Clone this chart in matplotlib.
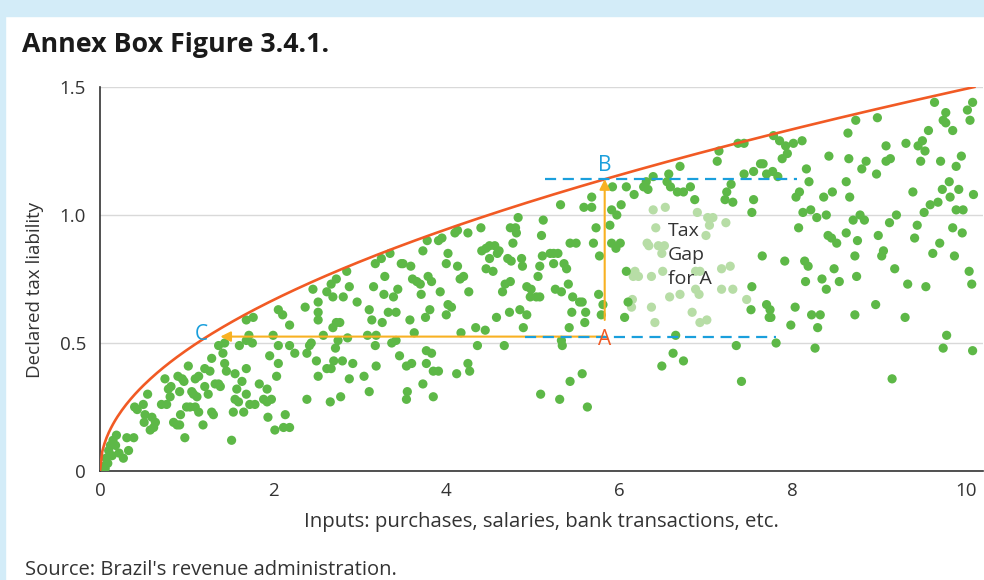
import numpy as np
import matplotlib.pyplot as plt
from matplotlib.patches import Rectangle

plt.rcParams['font.family'] = ['Open Sans', 'DejaVu Sans']

# frontier: declared tax liability that an efficient firm would report
frontier_max = 1.5
x_max = 10.1

# firms (inputs, declared tax liability)
firms = [
    (0.05, 0.02), (0.07, 0.05), (0.10, 0.08), (0.12, 0.10), (0.15, 0.12), (0.09, 0.03), (0.18, 0.10),
    (0.22, 0.07), (0.14, 0.06), (0.06, 0.01), (0.19, 0.14), (0.31, 0.13), (0.39, 0.13), (0.33, 0.08),
    (0.27, 0.05), (0.40, 0.25), (0.43, 0.24), (0.50, 0.26), (0.55, 0.30), (0.52, 0.22), (0.51, 0.19),
    (0.60, 0.21), (0.64, 0.19), (0.58, 0.16), (0.62, 0.17), (0.71, 0.26), (0.77, 0.26), (0.75, 0.36),
    (0.79, 0.32), (0.81, 0.29), (0.82, 0.33), (0.85, 0.19), (0.89, 0.18), (0.92, 0.18), (0.90, 0.37),
    (0.95, 0.36), (0.97, 0.35), (0.92, 0.31), (0.93, 0.22), (1.00, 0.25), (1.04, 0.25), (0.98, 0.13),
    (1.02, 0.41), (1.06, 0.31), (1.08, 0.30), (1.12, 0.29), (1.10, 0.36), (1.14, 0.37), (1.10, 0.25),
    (1.14, 0.23), (1.19, 0.18), (1.21, 0.40), (1.27, 0.39), (1.21, 0.33), (1.25, 0.30), (1.29, 0.44),
    (1.29, 0.23), (1.31, 0.22), (1.33, 0.34), (1.37, 0.34), (1.39, 0.33), (1.37, 0.49), (1.44, 0.50),
    (1.42, 0.46), (1.44, 0.42), (1.46, 0.39), (1.52, 0.12),
    (1.69, 0.59), (1.77, 0.60), (2.06, 0.63), (2.11, 0.61), (2.19, 0.57), (2.37, 0.64), (2.46, 0.71),
    (2.52, 0.66), (2.52, 0.62), (2.52, 0.59), (2.62, 0.70), (2.67, 0.73), (2.69, 0.68), (2.73, 0.75),
    (2.81, 0.68), (2.85, 0.78), (2.88, 0.72), (2.97, 0.66), (2.69, 0.56), (2.73, 0.58), (2.77, 0.58),
    (2.00, 0.53), (2.06, 0.49), (2.19, 0.49), (2.25, 0.46), (1.96, 0.45), (2.06, 0.42), (2.04, 0.37),
    (2.39, 0.46), (2.44, 0.50), (2.42, 0.49), (2.50, 0.43), (2.52, 0.37), (2.58, 0.53), (2.62, 0.40),
    (2.67, 0.40), (2.70, 0.43), (2.72, 0.48), (2.75, 0.51), (2.80, 0.43), (2.86, 0.52), (2.88, 0.36),
    (2.92, 0.42), (2.66, 0.27), (2.78, 0.29), (2.39, 0.28),
    (3.05, 0.37), (3.11, 0.31), (3.18, 0.49), (3.19, 0.41), (3.16, 0.72), (3.29, 0.76), (3.28, 0.69),
    (3.35, 0.85), (3.25, 0.83), (3.18, 0.81), (3.33, 0.62), (3.39, 0.68), (3.42, 0.62), (3.44, 0.71),
    (3.37, 0.50), (3.42, 0.51), (3.26, 0.58), (3.14, 0.59), (3.11, 0.63), (3.19, 0.53), (3.09, 0.53),
    (1.56, 0.38), (1.69, 0.40), (1.64, 0.35), (1.58, 0.32), (1.69, 0.30), (1.56, 0.28), (1.60, 0.27),
    (1.73, 0.26), (1.79, 0.26), (1.54, 0.23), (1.66, 0.23), (1.84, 0.34), (1.93, 0.32), (1.89, 0.28),
    (1.93, 0.27), (1.98, 0.28), (1.94, 0.21), (2.14, 0.22), (2.02, 0.16), (2.12, 0.17), (2.19, 0.17),
    (1.61, 0.49), (1.69, 0.51), (1.72, 0.53), (1.76, 0.50), (3.46, 0.45),
    (3.48, 0.81), (3.50, 0.81), (3.59, 0.80), (3.73, 0.86), (3.78, 0.90), (3.91, 0.90), (3.95, 0.91),
    (4.10, 0.93), (4.13, 0.94), (4.25, 0.93), (4.40, 0.95), (4.02, 0.85), (4.00, 0.81), (4.13, 0.80),
    (4.16, 0.75), (4.20, 0.76), (3.93, 0.70), (3.71, 0.69), (3.61, 0.75), (3.66, 0.74), (3.70, 0.73),
    (3.79, 0.76), (3.83, 0.74), (3.81, 0.63), (3.76, 0.60), (4.02, 0.65), (4.06, 0.64), (4.00, 0.61),
    (4.26, 0.70), (3.58, 0.59), (3.63, 0.54), (3.54, 0.41), (3.60, 0.42), (3.77, 0.42), (3.85, 0.39),
    (3.91, 0.39), (4.12, 0.38), (4.25, 0.42), (4.27, 0.39), (3.73, 0.34), (3.55, 0.31), (3.54, 0.28),
    (3.85, 0.29), (3.77, 0.47), (3.83, 0.46), (4.17, 0.54), (4.34, 0.56), (4.45, 0.55), (4.36, 0.49),
    (4.67, 0.49),
    (4.41, 0.86), (4.46, 0.87), (4.50, 0.88), (4.56, 0.88), (4.59, 0.85), (4.61, 0.86), (4.50, 0.83),
    (4.46, 0.79), (4.54, 0.78), (4.71, 0.83), (4.75, 0.82), (4.87, 0.83), (4.88, 0.80), (4.77, 0.89),
    (4.74, 0.95), (4.80, 0.95), (4.81, 0.93), (4.83, 0.99), (5.12, 0.98), (5.10, 0.92), (5.11, 0.84),
    (5.08, 0.80), (5.06, 0.76), (5.20, 0.85), (5.24, 0.85), (5.29, 0.85), (5.24, 0.81), (5.36, 0.81),
    (5.39, 0.79), (5.32, 1.04), (5.43, 0.89), (5.50, 0.89), (5.59, 1.03), (5.68, 1.03), (5.70, 0.89),
    (5.73, 0.95), (5.77, 0.84), (4.68, 0.73), (4.74, 0.74), (4.65, 0.70), (4.58, 0.60), (4.73, 0.62),
    (4.85, 0.63), (4.93, 0.61), (4.89, 0.56), (4.93, 0.72), (4.98, 0.71), (4.97, 0.68), (5.04, 0.68),
    (5.08, 0.68), (5.26, 0.71), (5.33, 0.70), (5.41, 0.73), (5.46, 0.68), (5.54, 0.66), (5.57, 0.66),
    (5.45, 0.62), (5.61, 0.62), (5.42, 0.56), (5.60, 0.58), (5.76, 0.69), (5.79, 0.61), (5.81, 0.65),
    (5.33, 0.51), (5.34, 0.49), (5.09, 0.30), (5.31, 0.28), (5.43, 0.35), (5.57, 0.38), (5.63, 0.25),
    (5.68, 1.07), (5.92, 1.11),
    (5.89, 0.96), (5.91, 1.02), (5.97, 1.00), (6.02, 1.04), (5.91, 0.89), (5.96, 0.87), (6.01, 0.89),
    (6.08, 1.11), (6.17, 1.08), (6.28, 1.11), (6.31, 1.13), (6.33, 1.10), (6.39, 1.15), (6.55, 1.13),
    (6.57, 1.16), (6.59, 1.11), (6.67, 1.09), (6.70, 1.19), (6.74, 1.09), (6.82, 1.11), (6.87, 1.06),
    (7.13, 1.21), (7.15, 1.25), (7.37, 1.28), (7.44, 1.28), (7.22, 1.06), (7.24, 1.09), (7.31, 1.05),
    (7.29, 1.12), (7.44, 1.16), (7.55, 1.17), (7.63, 1.20), (7.66, 1.20), (7.70, 1.16), (7.55, 1.06),
    (7.53, 1.01), (7.65, 0.84), (6.08, 0.78), (6.10, 0.66), (6.06, 0.60), (7.53, 0.72), (7.52, 0.63),
    (7.70, 0.65), (7.73, 0.60), (6.65, 0.53), (6.62, 0.46), (6.74, 0.43), (6.49, 0.41), (7.35, 0.49),
    (7.41, 0.35),
    (7.78, 1.31), (7.85, 1.29), (7.92, 1.27), (8.01, 1.28), (8.11, 1.29), (7.94, 1.24), (7.88, 1.22),
    (7.77, 1.17), (7.83, 1.15), (8.16, 1.18), (8.19, 1.13), (8.08, 1.09), (8.04, 1.07), (8.12, 1.01),
    (8.21, 1.02), (8.07, 0.95), (8.28, 0.99), (8.36, 1.07), (8.46, 1.09), (8.39, 1.00), (8.41, 0.92),
    (8.45, 0.91), (8.51, 0.89), (8.42, 1.23), (8.64, 1.32), (8.73, 1.37), (8.98, 1.38), (8.65, 1.22),
    (8.62, 1.13), (8.66, 1.07), (8.80, 1.18), (8.85, 1.21), (8.97, 1.16), (9.08, 1.27), (9.08, 1.21),
    (9.13, 1.22), (8.70, 0.98), (8.78, 1.00), (8.83, 0.98), (8.62, 0.93), (8.75, 0.90), (8.99, 0.92),
    (9.12, 0.97), (9.20, 1.00), (8.72, 0.84), (9.03, 0.84), (9.05, 0.86), (9.18, 0.79), (8.74, 0.76),
    (9.33, 0.73), (9.54, 0.72), (9.31, 1.28), (9.45, 1.27), (9.50, 1.29), (9.53, 1.25), (9.48, 1.21),
    (9.57, 1.33), (9.64, 1.44), (9.74, 1.37), (9.77, 1.40), (9.77, 1.36), (9.85, 1.33), (9.71, 1.21),
    (9.95, 1.23), (9.89, 1.19), (10.02, 1.41), (10.05, 1.37), (10.08, 1.44), (9.39, 1.09), (9.52, 1.01),
    (9.59, 1.04), (9.68, 1.05), (9.73, 1.10), (9.81, 1.13), (9.82, 1.07), (9.92, 1.10), (9.89, 1.02),
    (9.97, 1.02), (10.09, 1.08), (9.44, 0.96), (9.41, 0.91), (9.70, 0.89), (9.62, 0.85), (9.85, 0.95),
    (9.96, 0.93), (9.87, 0.84), (10.04, 0.78), (10.07, 0.73), (7.91, 0.82), (8.14, 0.82), (8.18, 0.80),
    (8.15, 0.74), (8.34, 0.75), (8.48, 0.79), (8.39, 0.71), (8.54, 0.74), (7.74, 0.63), (7.75, 0.60),
    (8.03, 0.64), (7.98, 0.57), (8.22, 0.61), (8.32, 0.61), (8.29, 0.56), (8.72, 0.61), (8.96, 0.65),
    (9.30, 0.60), (7.81, 0.50), (8.26, 0.48), (9.15, 0.36), (9.78, 0.53), (9.74, 0.48), (10.08, 0.47),
]

# faded firms behind the "Tax Gap" label
gap_firms = [
    (6.39, 1.02), (6.53, 1.03), (6.42, 0.95), (6.32, 0.89), (6.34, 0.88), (6.45, 0.88), (6.52, 0.88),
    (6.49, 0.85), (6.90, 1.01), (7.02, 0.99), (7.08, 0.99), (7.04, 0.96), (7.23, 0.97), (7.00, 0.92),
    (7.18, 0.79), (7.28, 0.80), (6.88, 0.78), (6.93, 0.78), (6.18, 0.78), (6.16, 0.76), (6.22, 0.76),
    (6.37, 0.76), (6.50, 0.78), (6.58, 0.68), (6.70, 0.69), (6.88, 0.71), (6.92, 0.69), (7.18, 0.71),
    (7.31, 0.71), (7.47, 0.67), (6.15, 0.67), (6.14, 0.64), (6.37, 0.64), (6.84, 0.62), (7.01, 0.59),
    (6.93, 0.58), (6.41, 0.58),
]

# firm A and its efficient benchmarks B and C
point_a = (5.83, 0.525)
point_b = (5.83, 1.14)
point_c = (1.39, 0.525)
line_b = (5.14, 8.05)
line_a = (4.91, 7.81)

GREEN = '#5DB847'
LIGHT_GREEN = '#B7DDA6'
ORANGE = '#F15A24'
YELLOW = '#F8B122'
BLUE = '#1A9FDC'
TEXT = '#333333'

fig = plt.figure(figsize=(9.84, 5.8), dpi=100)
fig.patches.append(Rectangle((0, 1 - 16 / 580), 1, 16 / 580, transform=fig.transFigure,
                             color='#D3ECF8', zorder=0))
fig.patches.append(Rectangle((0, 0), 5 / 984, 1, transform=fig.transFigure,
                             color='#D3ECF8', zorder=0))

ax = fig.add_axes([100 / 984, 109 / 580, 883 / 984, 384 / 580])

fx = np.linspace(0, x_max, 400)
ax.plot(fx, frontier_max * np.sqrt(fx / x_max), color=ORANGE, lw=1.9, zorder=4)

fx_, fy_ = np.array(firms).T
gx_, gy_ = np.array(gap_firms).T
ax.scatter(gx_, gy_, s=44, color=LIGHT_GREEN, edgecolors='none', zorder=2)
ax.scatter(fx_, fy_, s=44, color=GREEN, edgecolors='none', zorder=3)

ax.plot(line_b, [point_b[1]] * 2, color=BLUE, lw=1.6, ls=(0, (5, 3)), zorder=5)
ax.plot(line_a, [point_a[1]] * 2, color=BLUE, lw=1.6, ls=(0, (5, 3)), zorder=6)

arrow = dict(arrowstyle='-|>', color=YELLOW, lw=1.5, mutation_scale=15, shrinkA=0, shrinkB=0)
ax.annotate('', xy=point_b, xytext=(point_a[0], point_a[1] + 0.065), arrowprops=arrow, zorder=5)
ax.annotate('', xy=point_c, xytext=point_a, arrowprops=arrow, zorder=5)

ax.text(point_a[0], point_a[1] - 0.01, 'A', color=ORANGE, fontsize=15, ha='center', va='center', zorder=7)
ax.text(point_b[0], point_b[1] + 0.055, 'B', color=BLUE, fontsize=15, ha='center', va='center', zorder=7)
ax.text(1.17, 0.535, 'C', color=BLUE, fontsize=15, ha='center', va='center', zorder=7)
ax.text(6.56, 0.845, 'Tax\nGap\nfor A', color=TEXT, fontsize=14, ha='left', va='center',
        linespacing=1.42, zorder=7)

ax.set_xlim(0, 10.2)
ax.set_ylim(0, 1.5)
ax.set_xticks(range(0, 11, 2))
ax.set_yticks([0, 0.5, 1.0, 1.5])
ax.set_yticklabels(['0', '0.5', '1.0', '1.5'])
ax.tick_params(length=0, labelsize=13.5, colors=TEXT)
ax.tick_params(axis='x', pad=8)
ax.tick_params(axis='y', pad=10)
ax.grid(axis='y', color='#D9D9D9', lw=1)
ax.set_axisbelow(True)
for s in ['top', 'right']:
    ax.spines[s].set_visible(False)
for s in ['left', 'bottom']:
    ax.spines[s].set_color('#333333')
    ax.spines[s].set_linewidth(1.2)

fig.text(22 / 984, 1 - 45 / 580, 'Annex Box Figure 3.4.1.', fontsize=19.3, fontweight='bold',
         color='#1A1A1A', ha='left', va='center')
fig.text(35 / 984, 1 - 290 / 580, 'Declared tax liability', fontsize=13.5, color=TEXT,
         rotation=90, ha='center', va='center')
fig.text(541 / 984, 1 - 522 / 580, 'Inputs: purchases, salaries, bank transactions, etc.',
         fontsize=14.7, color=TEXT, ha='center', va='center')
fig.text(25 / 984, 1 - 570 / 580, "Source: Brazil's revenue administration.", fontsize=14.5,
         color=TEXT, ha='left', va='center')

fig.savefig('out.png', dpi=100)
